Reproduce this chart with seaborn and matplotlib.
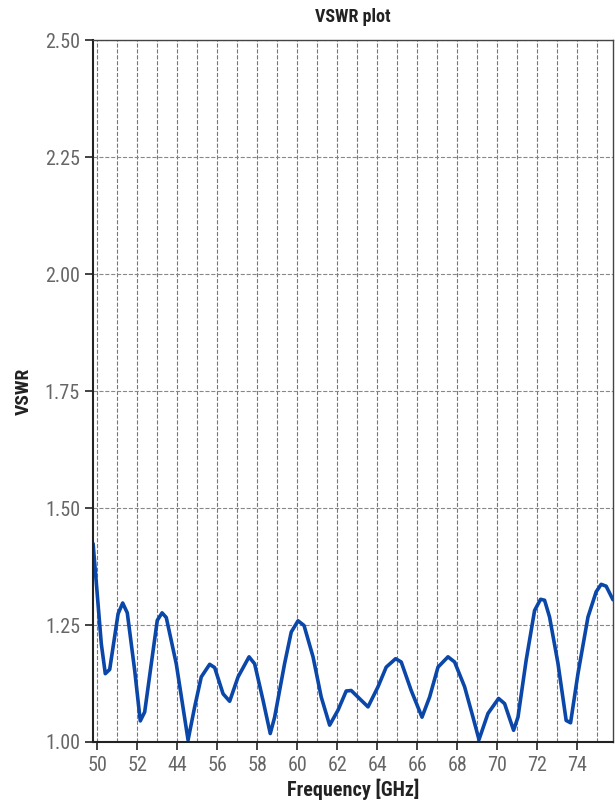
import matplotlib
matplotlib.use('Agg')
import matplotlib.pyplot as plt
import seaborn as sns
import pandas as pd

# values
freq = [49.78, 50.19, 50.39, 50.61, 51.03, 51.26, 51.49, 51.86, 52.14, 52.36,
        52.69, 52.99, 53.23, 53.44, 53.94, 54.53, 54.86, 55.19, 55.61, 55.86,
        56.28, 56.61, 57.03, 57.58, 57.86, 58.28, 58.64, 58.86, 59.36, 59.69,
        60.03, 60.33, 60.78, 61.19, 61.61, 62.03, 62.44, 62.69, 63.53, 64.03,
        64.44, 64.91, 65.19, 65.69, 66.23, 66.61, 67.03, 67.53, 67.86, 68.36,
        68.78, 69.08, 69.53, 70.06, 70.36, 70.81, 71.03, 71.44, 71.86, 72.16,
        72.36, 72.61, 73.03, 73.44, 73.66, 74.03, 74.53, 74.94, 75.19, 75.44,
        75.78]
vswr = [1.424, 1.210, 1.146, 1.155, 1.274, 1.297, 1.276, 1.153, 1.045, 1.064,
        1.167, 1.260, 1.276, 1.266, 1.167, 1.004, 1.075, 1.139, 1.166, 1.159,
        1.103, 1.087, 1.139, 1.182, 1.167, 1.089, 1.018, 1.053, 1.168, 1.235,
        1.259, 1.249, 1.182, 1.096, 1.036, 1.068, 1.109, 1.110, 1.075, 1.118,
        1.160, 1.178, 1.171, 1.110, 1.053, 1.096, 1.160, 1.182, 1.171, 1.118,
        1.053, 1.005, 1.061, 1.093, 1.082, 1.025, 1.053, 1.175, 1.281, 1.305,
        1.303, 1.267, 1.168, 1.046, 1.041, 1.146, 1.267, 1.321, 1.337, 1.333,
        1.304]

xticks = [50, 52, 54, 56, 58, 60, 62, 64, 66, 68, 70, 72, 74]
xticklabels = ['50', '52', '44', '56', '58', '60', '62', '64', '66', '68', '70', '72', '74']
yticks = [1.00, 1.25, 1.50, 1.75, 2.00, 2.25, 2.50]

df = pd.DataFrame({'Frequency': freq, 'VSWR': vswr})

sns.set_style('ticks')
plt.rcParams['font.family'] = ['Roboto Condensed', 'Liberation Sans', 'DejaVu Sans']

fig = plt.figure(figsize=(6.15, 8.05), dpi=100)
ax = fig.add_axes([0.1517, 0.0783, 0.8453, 0.8717])

sns.lineplot(data=df, x='Frequency', y='VSWR', color='#0a47a8', linewidth=2.6, ax=ax)

ax.set_xlim(49.79, 75.79)
ax.set_ylim(1.0, 2.5)
ax.set_xticks(xticks)
ax.set_xticklabels(xticklabels)
ax.set_xticks(range(50, 76), minor=True)
ax.set_yticks(yticks)
ax.set_yticklabels(['%.2f' % v for v in yticks])

ax.grid(True, which='major', axis='y', linestyle='--', color='#888888', linewidth=0.8)
ax.grid(True, which='both', axis='x', linestyle='--', color='#777777', linewidth=0.8)
ax.tick_params(axis='both', which='major', labelsize=14.5, labelcolor='#666666',
               length=6, width=1.2, color='#222222')
ax.tick_params(axis='x', which='major', pad=4)
ax.tick_params(axis='x', which='minor', length=0)

for side in ['left', 'bottom']:
    ax.spines[side].set_linewidth(1.5)
    ax.spines[side].set_color('#222222')
for side in ['top', 'right']:
    ax.spines[side].set_linewidth(1.0)
    ax.spines[side].set_color('#444444')

ax.set_title('VSWR plot', fontsize=13, fontweight='bold', color='#222222', pad=13)
ax.set_xlabel('Frequency [GHz]', fontsize=14.5, fontweight='bold', color='#222222', labelpad=3)
ax.set_ylabel('VSWR', fontsize=14, fontweight='bold', color='#222222', labelpad=9)

fig.savefig('out.png', dpi=100)
